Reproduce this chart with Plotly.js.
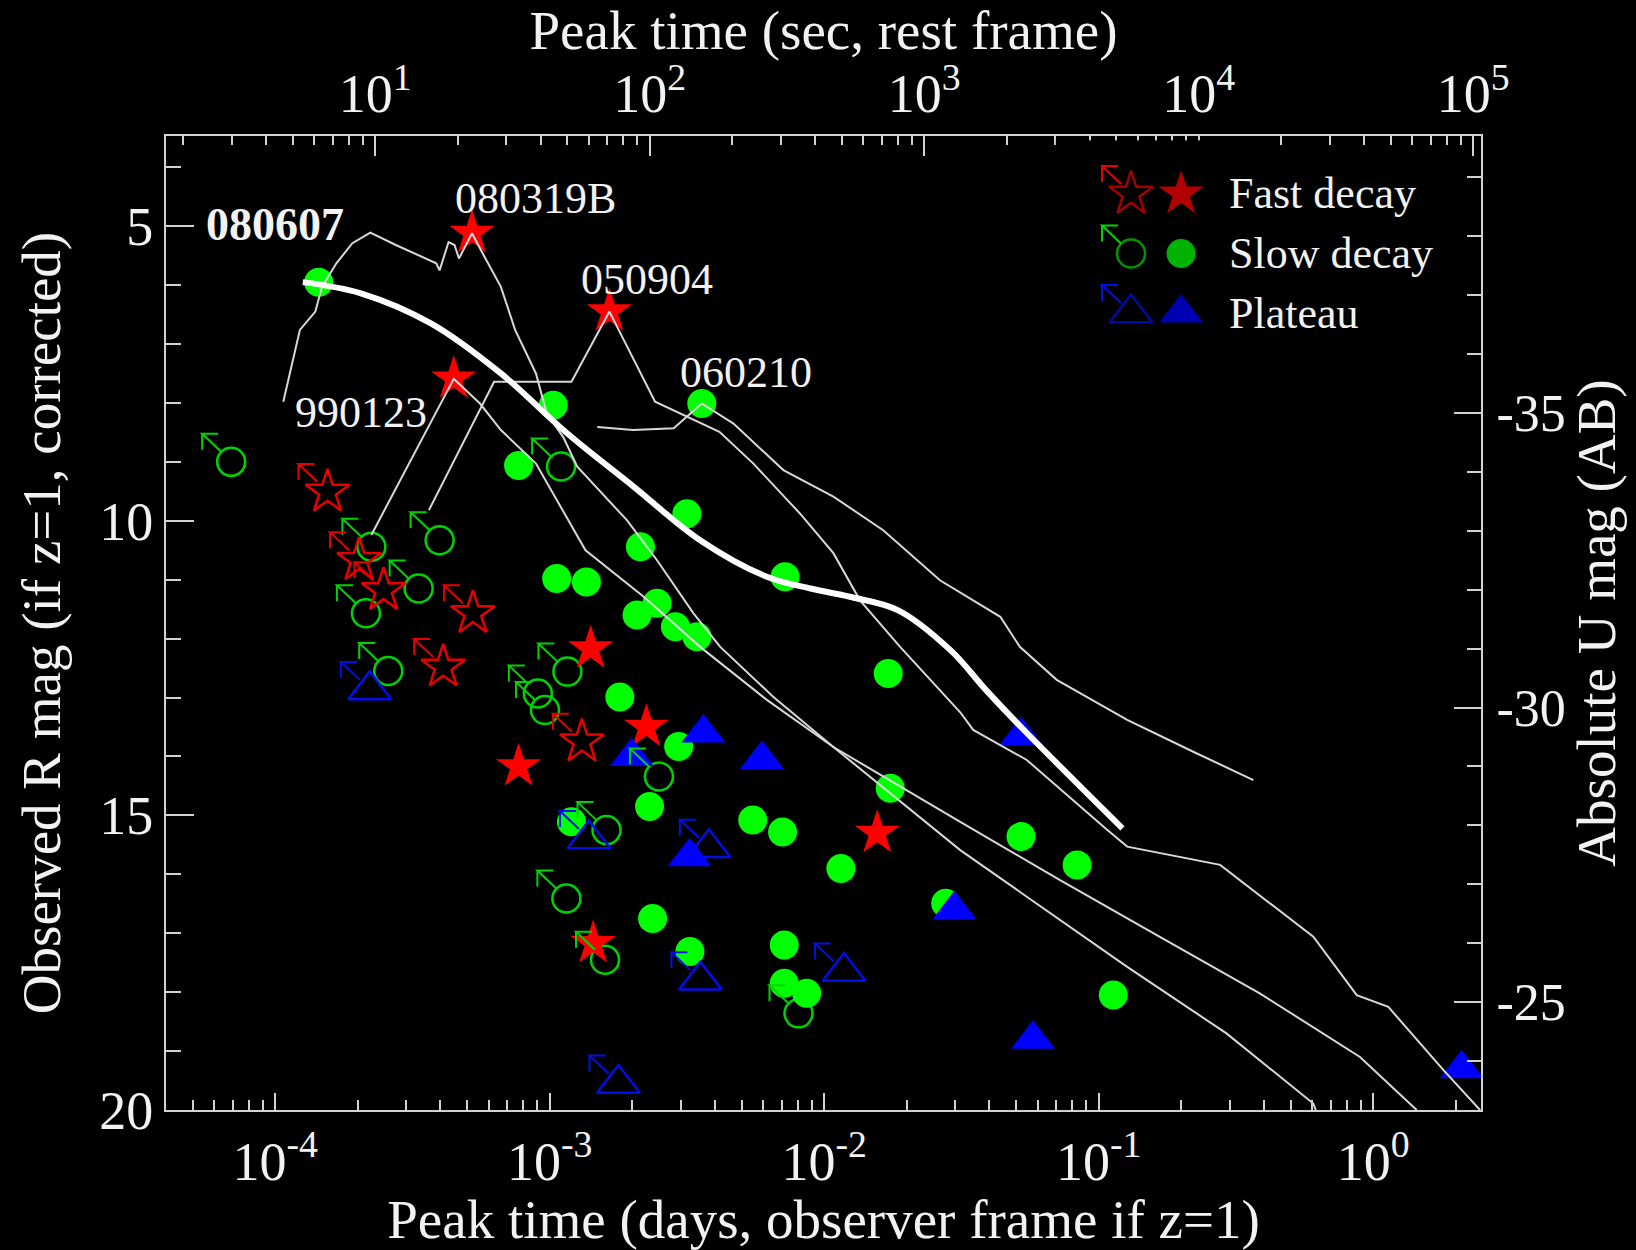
<!DOCTYPE html>
<html>
<head>
<meta charset="utf-8">
<script src="https://cdn.plot.ly/plotly-3.0.1.min.js"></script>
<style>
  html, body { margin: 0; padding: 0; background: #000; }
  #chart { width: 1636px; height: 1250px; }
</style>
</head>
<body>
<div id="chart"></div>
<script>
// ---------------------------------------------------------------
// Optical afterglow peaks: peak time (days, observer frame if z=1)
// versus observed R magnitude (if z=1, corrected).
// "Lim" arrays are limits (peak earlier / brighter than plotted).
// ---------------------------------------------------------------

// Fast decay
const fastT      = [5.21e-4, 1.65e-3, 4.47e-4, 1.41e-3, 2.25e-3, 7.70e-4, 1.56e-2, 1.44e-3];
const fastMag    = [5.12, 6.45, 7.59, 12.17, 13.50, 14.17, 15.30, 17.17];
const fastLimT   = [1.55e-4, 2.02e-4, 2.48e-4, 5.25e-4, 4.09e-4, 1.31e-3];
const fastLimMag = [9.51, 10.67, 11.18, 11.57, 12.48, 13.75];

// Slow decay
const slowT = [1.44e-4, 1.03e-3, 3.58e-3, 7.70e-4, 3.16e-3, 2.14e-3, 1.06e-3, 1.36e-3,
               7.20e-3, 2.08e-3, 2.46e-3, 2.87e-3, 3.44e-3, 1.71e-2, 1.80e-3, 2.95e-3,
               2.31e-3, 1.74e-2, 1.20e-3, 5.49e-3, 7.05e-3, 5.21e-2, 1.15e-2, 8.34e-2,
               2.77e-2, 2.37e-3, 3.24e-3, 7.15e-3, 7.15e-3, 8.63e-3, 0.113];
const slowMag = [5.95, 8.04, 8.01, 9.06, 9.88, 10.44, 10.98, 11.04,
                 10.95, 11.60, 11.40, 11.80, 11.97, 12.59, 12.99, 13.83,
                 14.85, 14.54, 15.11, 15.08, 15.28, 15.36, 15.90, 15.84,
                 16.49, 16.75, 17.31, 17.20, 17.85, 18.02, 18.05];
const slowLimT   = [6.91e-5, 2.24e-4, 3.97e-4, 3.33e-4, 2.14e-4, 2.58e-4, 1.10e-3, 1.16e-3,
                    9.05e-4, 9.61e-4, 2.50e-3, 1.61e-3, 1.15e-3, 1.59e-3, 8.06e-3];
const slowLimMag = [9.00, 10.44, 10.33, 11.15, 11.57, 12.55, 9.08, 12.56,
                    12.93, 13.21, 14.34, 15.25, 16.41, 17.45, 18.36];

// Plateau
const plateauT      = [3.63e-3, 1.99e-3, 5.93e-3, 3.23e-3, 5.21e-2, 2.98e-2, 5.76e-2, 2.10];
const plateauMag    = [13.60, 14.00, 14.05, 15.70, 13.65, 16.60, 18.80, 19.30];
const plateauLimT   = [2.21e-4, 1.39e-3, 3.80e-3, 3.54e-3, 1.18e-2, 1.78e-3];
const plateauLimMag = [12.87, 15.40, 15.55, 17.80, 17.65, 19.55];

// Light curves of individual bursts (days, R mag)
const lc080607T   = [1.26e-4, 2.05e-4, 3.69e-4, 6.64e-4, 1.16e-3, 2.02e-3, 3.53e-3, 6.18e-3,
                     8.91e-3, 1.24e-2, 1.86e-2, 2.89e-2, 3.88e-2, 5.21e-2, 0.122];
const lc080607Mag = [5.95, 6.14, 6.65, 7.50, 8.52, 9.42, 10.33, 10.95,
                     11.15, 11.29, 11.52, 12.20, 12.87, 13.50, 15.22];

const lc080319BT   = [1.07e-4, 1.23e-4, 1.40e-4, 1.48e-4, 1.67e-4, 1.91e-4, 2.22e-4, 2.75e-4,
                      3.86e-4, 3.97e-4, 4.28e-4, 4.50e-4, 4.67e-4, 5.21e-4, 5.74e-4, 6.64e-4,
                      7.48e-4, 8.91e-4, 9.75e-4, 1.12e-3, 1.26e-3, 1.91e-3, 2.46e-3, 3.34e-3,
                      4.18e-3, 6.53e-3, 1.08e-2, 3.13e-2, 5.47e-2, 0.127, 0.292, 0.605, 0.618];
const lc080319BMag = [7.98, 6.76, 6.45, 6.03, 5.63, 5.29, 5.11, 5.32,
                      5.63, 5.75, 5.27, 5.32, 5.55, 5.12, 5.49, 6.03,
                      6.76, 7.50, 8.18, 8.58, 9.08, 9.99, 10.67, 11.57,
                      12.14, 12.99, 13.84, 15.59, 16.38, 17.57, 18.70, 19.89, 20.0];

const lc990123T   = [2.24e-4, 4.47e-4, 5.57e-4, 6.64e-4, 8.91e-4, 1.35e-3, 2.20e-3, 3.53e-3,
                     6.18e-3, 1.08e-2, 3.13e-2, 7.23e-2, 0.167, 0.386, 0.895, 1.44];
const lc990123Mag = [10.24, 7.59, 8.01, 8.46, 9.03, 10.50, 11.29, 12.14,
                     13.04, 13.84, 15.11, 16.10, 17.06, 18.02, 19.10, 20.0];

const lc050904T   = [3.63e-4, 6.27e-4, 1.20e-3, 1.65e-3, 2.42e-3, 4.15e-3, 5.52e-3, 8.17e-3,
                     1.08e-2, 1.35e-2, 1.89e-2, 3.13e-2, 3.49e-2, 5.47e-2, 0.107, 0.127,
                     0.277, 0.605, 0.871, 1.135, 1.80, 2.45];
const lc050904Mag = [9.82, 7.64, 7.64, 6.45, 7.98, 8.49, 9.03, 9.88,
                     10.55, 11.35, 12.14, 13.25, 13.55, 14.06, 15.24, 15.53,
                     15.84, 17.06, 18.05, 18.25, 19.32, 20.0];

const lc060210T   = [1.49e-3, 2.01e-3, 2.83e-3, 3.58e-3, 4.67e-3, 7.10e-3, 1.08e-2, 1.64e-2,
                     2.64e-2, 4.38e-2, 5.16e-2, 7.03e-2, 9.04e-2, 0.127, 0.221, 0.366];
const lc060210Mag = [8.41, 8.46, 8.43, 8.01, 8.35, 9.14, 9.59, 10.16,
                     11.01, 11.63, 12.14, 12.70, 12.99, 13.38, 13.92, 14.40];

// Legend categories
const categories = ['Fast decay', 'Slow decay', 'Plateau'];

// Axis conversions for the secondary scales
const redshift   = 1;                 // assumed z for the rest-frame scale
const secPerDay  = 86400;
const magOffset  = 43.17;             // R (z=1) -> absolute U (AB)

// ---------------------------------------------------------------
const FONT  = '"Liberation Serif", "Times New Roman", Times, serif';
const TEXT  = '#f2f2f2';
const AXIS  = '#d2d2d2';
const RED = '#ff0000', RED_OPEN = '#e80000';
const GREEN = '#00ff00', GREEN_OPEN = '#00d400';
const BLUE = '#0000ff', BLUE_OPEN = '#0010e6';

const xRangeDays = [4.0e-5, 2.47];
const yRangeMag  = [20, 3.47];
const secScale   = secPerDay / (1 + redshift);

function logMinor(lo, hi) {
  const v = [];
  for (let k = lo; k <= hi; k++) for (let m = 2; m <= 9; m++) v.push(m * Math.pow(10, k));
  return v;
}
const pow10Text = (e) => '10<sup>' + e + '</sup>';

const markerSets = [
  { t: slowLimT,    m: slowLimMag,    symbol: 'circle-open',      size: 28, color: GREEN_OPEN, lw: 2.5 },
  { t: slowT,       m: slowMag,       symbol: 'circle',           size: 29, color: GREEN,      lw: 0 },
  { t: fastLimT,    m: fastLimMag,    symbol: 'star-open',        size: 33, color: RED_OPEN,   lw: 2.5 },
  { t: fastT,       m: fastMag,       symbol: 'star',             size: 34, color: RED,        lw: 0 },
  { t: plateauLimT, m: plateauLimMag, symbol: 'triangle-up-open', size: 37, color: BLUE_OPEN,  lw: 2.5 },
  { t: plateauT,    m: plateauMag,    symbol: 'triangle-up',      size: 38, color: BLUE,       lw: 0 }
];

const traces = markerSets.map(s => ({
  type: 'scatter', mode: 'markers', x: s.t, y: s.m, hoverinfo: 'skip',
  marker: { symbol: s.symbol, size: s.size, color: s.color, line: { width: s.lw, color: s.color } }
}));

const curves = [
  { t: lc080319BT, m: lc080319BMag, width: 2, color: '#d8d8d8', shape: 'linear' },
  { t: lc990123T,  m: lc990123Mag,  width: 2, color: '#d8d8d8', shape: 'linear' },
  { t: lc050904T,  m: lc050904Mag,  width: 2, color: '#d8d8d8', shape: 'linear' },
  { t: lc060210T,  m: lc060210Mag,  width: 2, color: '#d8d8d8', shape: 'linear' },
  { t: lc080607T,  m: lc080607Mag,  width: 6, color: '#ffffff', shape: 'spline' }
];
curves.forEach(c => traces.push({
  type: 'scatter', mode: 'lines', x: c.t, y: c.m, hoverinfo: 'skip',
  line: { color: c.color, width: c.width, shape: c.shape, smoothing: 1 }
}));

// secondary (top / right) scales
traces.push({ type: 'scatter', x: [], y: [], xaxis: 'x2', yaxis: 'y2', hoverinfo: 'skip' });

// legend keys: limit symbol, detection symbol
const keyStyles = [
  { open: 'star-open',        filled: 'star',        openColor: RED_OPEN,   color: RED,   size: 34 },
  { open: 'circle-open',      filled: 'circle',      openColor: GREEN_OPEN, color: GREEN, size: 29 },
  { open: 'triangle-up-open', filled: 'triangle-up', openColor: BLUE_OPEN,  color: BLUE,  size: 38 }
];
categories.forEach((name, i) => {
  const k = keyStyles[i];
  traces.push({
    type: 'scatter', mode: 'markers', x: [0, 1], y: [i, i], xaxis: 'x3', yaxis: 'y3', hoverinfo: 'skip',
    marker: { symbol: [k.open, k.filled], size: [k.size - 1, k.size], color: [k.openColor, k.color],
              line: { width: [2.5, 0], color: [k.openColor, k.color] } }
  });
});

// limit arrow: a shaft pointing up-left from the symbol edge, with an open right-angle head
// (pixel offsets from the symbol centre, y up)
const ARROW_PATH = 'M-10,10L-29,28L-13,28M-29,28L-29,12';
function limitArrows(xs, ys, color, xref, yref) {
  return xs.map((xv, i) => ({
    type: 'path', xref: xref, yref: yref, xsizemode: 'pixel', ysizemode: 'pixel',
    xanchor: xv, yanchor: ys[i], path: ARROW_PATH, layer: 'above',
    line: { color: color, width: 2 }, fillcolor: 'rgba(0,0,0,0)'
  }));
}

const shapes = [];
shapes.push(...limitArrows(slowLimT, slowLimMag, GREEN_OPEN, 'x', 'y'));
shapes.push(...limitArrows(fastLimT, fastLimMag, RED_OPEN, 'x', 'y'));
shapes.push(...limitArrows(plateauLimT, plateauLimMag, BLUE_OPEN, 'x', 'y'));

const annotations = [];
categories.forEach((name, i) => {
  shapes.push(...limitArrows([0], [i], keyStyles[i].openColor, 'x3', 'y3'));
  annotations.push({ x: 1, y: i, xref: 'x3', yref: 'y3', text: name, showarrow: false,
                     xanchor: 'left', xshift: 46, font: { family: FONT, size: 44, color: TEXT } });
});

// burst names
const burstLabels = [
  { text: '<b>080607</b>', t: 1.00e-4, m: 4.97, size: 46 },
  { text: '080319B',       t: 8.87e-4, m: 4.53, size: 44 },
  { text: '050904',        t: 2.26e-3, m: 5.91, size: 44 },
  { text: '060210',        t: 5.20e-3, m: 7.49, size: 44 },
  { text: '990123',        t: 2.06e-4, m: 8.16, size: 44 }
];
burstLabels.forEach(l => annotations.push({
  x: Math.log10(l.t), y: l.m, xref: 'x', yref: 'y', text: l.text, showarrow: false,
  xanchor: 'center', yanchor: 'middle', font: { family: FONT, size: l.size, color: TEXT }
}));

const tickCommon = {
  ticks: 'inside', tickwidth: 2, tickcolor: AXIS, showline: true, linecolor: AXIS, linewidth: 2,
  showgrid: false, zeroline: false, fixedrange: true
};

const layout = {
  width: 1636, height: 1250,
  paper_bgcolor: '#000', plot_bgcolor: '#000',
  margin: { l: 166, r: 155, t: 136, b: 140, pad: 0 },
  showlegend: false,
  font: { family: FONT, color: TEXT },
  xaxis: Object.assign({}, tickCommon, {
    type: 'log', range: xRangeDays.map(Math.log10), anchor: 'y',
    tickmode: 'array', tickvals: [1e-4, 1e-3, 1e-2, 1e-1, 1], ticktext: [-4, -3, -2, -1, 0].map(pow10Text),
    ticklen: 17, ticklabelstandoff: 3,
    minor: { tickmode: 'array', tickvals: logMinor(-5, 0), ticks: 'inside', ticklen: 10, tickwidth: 2, tickcolor: AXIS },
    tickfont: { family: FONT, size: 54, color: TEXT },
    title: { text: 'Peak time (days, observer frame if z=1)', font: { family: FONT, size: 55, color: TEXT }, standoff: 15 }
  }),
  xaxis2: Object.assign({}, tickCommon, {
    type: 'log', overlaying: 'x', side: 'top', anchor: 'y',
    range: xRangeDays.map(d => Math.log10(d * secScale)),
    tickmode: 'array', tickvals: [1e1, 1e2, 1e3, 1e4, 1e5], ticktext: [1, 2, 3, 4, 5].map(pow10Text),
    ticklen: 20, ticklabelstandoff: 0,
    minor: { tickmode: 'array', tickvals: logMinor(0, 4), ticks: 'inside', ticklen: 9, tickwidth: 2, tickcolor: AXIS },
    tickfont: { family: FONT, size: 54, color: TEXT },
    title: { text: 'Peak time (sec, rest frame)', font: { family: FONT, size: 55, color: TEXT }, standoff: 8 }
  }),
  yaxis: Object.assign({}, tickCommon, {
    range: yRangeMag, anchor: 'x',
    tickmode: 'array', tickvals: [5, 10, 15, 20], ticktext: ['5', '10', '15', '20'],
    ticklen: 28, ticklabelstandoff: 0,
    minor: { dtick: 1, ticks: 'inside', ticklen: 15, tickwidth: 2, tickcolor: AXIS },
    tickfont: { family: FONT, size: 54, color: TEXT },
    title: { text: 'Observed R mag (if z=1, corrected)', font: { family: FONT, size: 55, color: TEXT }, standoff: 21 }
  }),
  yaxis2: Object.assign({}, tickCommon, {
    overlaying: 'y', side: 'right', anchor: 'x',
    range: yRangeMag.map(m => m - magOffset),
    tickmode: 'array', tickvals: [-35, -30, -25], ticktext: ['-35', '-30', '-25'],
    ticklen: 27, ticklabelstandoff: 3,
    minor: { dtick: 1, ticks: 'inside', ticklen: 14, tickwidth: 2, tickcolor: AXIS },
    tickfont: { family: FONT, size: 52, color: TEXT },
    title: { text: 'Absolute U mag (AB)', font: { family: FONT, size: 55, color: TEXT }, standoff: 8 }
  }),
  // legend key panel (key columns at 0 and 1, rows 0..2)
  xaxis3: { domain: [0.6767, 0.7910], range: [-1.5, 1.5], anchor: 'y3', visible: false, fixedrange: true },
  yaxis3: { domain: [0.7877, 0.9955], range: [2.5, -0.9], anchor: 'x3', visible: false, fixedrange: true },
  shapes: shapes,
  annotations: annotations
};

Plotly.newPlot('chart', traces, layout, { displayModeBar: false, staticPlot: true });
</script>
</body>
</html>
